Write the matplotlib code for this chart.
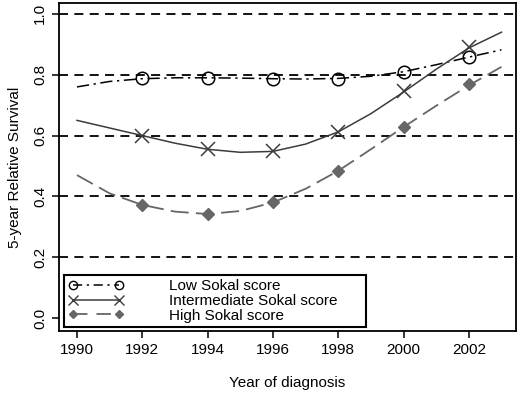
import numpy as np
import matplotlib.pyplot as plt

plt.rcParams['font.family'] = ['Liberation Sans', 'DejaVu Sans']

# Smoothed curves, one value per year
years = [1990, 1991, 1992, 1993, 1994, 1995, 1996, 1997, 1998, 1999, 2000, 2001, 2002, 2003]
low_curve = [0.760, 0.778, 0.787, 0.790, 0.790, 0.789, 0.787, 0.786, 0.788, 0.795, 0.810, 0.833, 0.858, 0.882]
mid_curve = [0.650, 0.625, 0.600, 0.575, 0.555, 0.545, 0.548, 0.572, 0.612, 0.672, 0.743, 0.818, 0.888, 0.940]
high_curve = [0.470, 0.410, 0.372, 0.350, 0.342, 0.352, 0.380, 0.425, 0.484, 0.555, 0.628, 0.698, 0.765, 0.826]

# Observed points (every second year)
pt_years = [1992, 1994, 1996, 1998, 2000, 2002]
low_pts = [0.790, 0.790, 0.785, 0.785, 0.810, 0.860]
mid_pts = [0.600, 0.555, 0.550, 0.613, 0.745, 0.890]
high_pts = [0.372, 0.342, 0.380, 0.484, 0.628, 0.768]

labels = ["Low Sokal score", "Intermediate Sokal score", "High Sokal score"]

fig = plt.figure(figsize=(5.2, 3.98), dpi=100)
ax = fig.add_axes([0.1135, 0.168, 0.8785, 0.8245])

for yv in [0.2, 0.4, 0.6, 0.8, 1.0]:
    ax.axhline(yv, color='black', lw=1.3, ls=(0, (5, 3.5)), zorder=1)

dark = '#3c3c3c'
grey = '#666666'

ax.plot(years, low_curve, color='black', lw=1.1, ls=(0, (8, 3, 1.5, 3)), zorder=3)
ax.plot(pt_years, low_pts, ls='none', marker='o', ms=9, mfc='none', mec='black', mew=1.1, zorder=4)

ax.plot(years, mid_curve, color=dark, lw=1.1, ls='-', zorder=3)
ax.plot(pt_years, mid_pts, ls='none', marker='x', ms=10, mec=dark, mew=1.1, zorder=4)

ax.plot(years, high_curve, color=grey, lw=1.3, ls=(0, (10, 4)), zorder=3)
ax.plot(pt_years, high_pts, ls='none', marker='D', ms=6, mfc=grey, mec=grey, zorder=4)

# legend proxies
h1, = ax.plot([], [], color='black', lw=1.1, ls=(0, (6, 3, 1.5, 3)), marker='o', ms=6, mfc='none', mec='black')
h2, = ax.plot([], [], color=dark, lw=1.1, ls='-', marker='x', ms=7, mec=dark)
h3, = ax.plot([], [], color=grey, lw=1.3, ls=(0, (8, 5)), marker='D', ms=4, mfc=grey, mec=grey)
leg = ax.legend([h1, h2, h3], labels, loc='lower left', bbox_to_anchor=(0.011, 0.012, 0.661, 0.165),
                mode='expand', numpoints=2, handlelength=3.6, handletextpad=3.0, fontsize=11,
                frameon=True, fancybox=False, borderpad=0.3, labelspacing=0.05,
                borderaxespad=0, framealpha=1)
leg.get_frame().set_edgecolor('black')
leg.get_frame().set_linewidth(1.5)

ax.set_xlim(1989.45, 2003.44)
ax.set_ylim(-0.043, 1.036)
ax.set_xticks([1990, 1992, 1994, 1996, 1998, 2000, 2002])
ax.set_yticks([0.0, 0.2, 0.4, 0.6, 0.8, 1.0])
ax.set_yticklabels(['0.0', '0.2', '0.4', '0.6', '0.8', '1.0'], rotation=90, va='center')
ax.tick_params(direction='out', length=5, width=1.1, labelsize=11, colors='black')
for s in ax.spines.values():
    s.set_linewidth(1.3)

ax.set_xlabel("Year of diagnosis", fontsize=11, labelpad=14)
ax.set_ylabel("5-year Relative Survival", fontsize=11, labelpad=8)

fig.savefig("out.png", dpi=100)
